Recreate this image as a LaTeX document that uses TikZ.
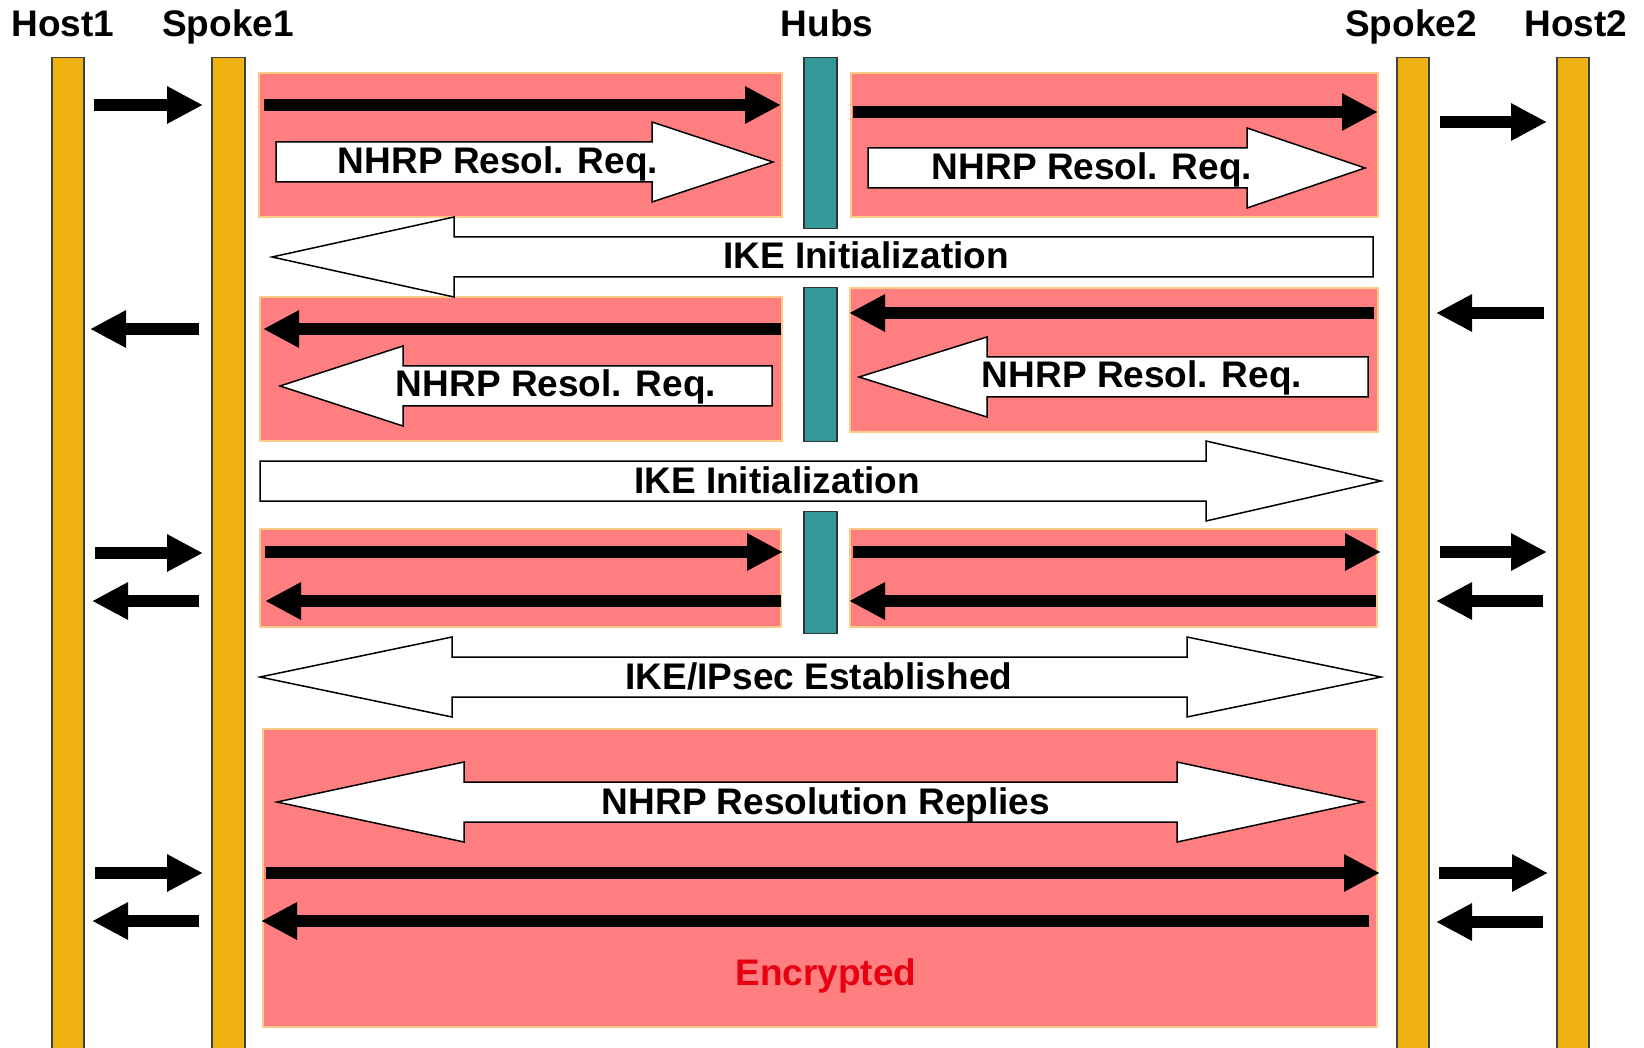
\documentclass[tikz,border=0pt]{standalone}
\usepackage{fontspec}
\setmainfont{Liberation Sans}
\usetikzlibrary{arrows.meta}
\definecolor{gold}{HTML}{EEB111}
\definecolor{pinkf}{HTML}{FF7F80}
\definecolor{pinkb}{HTML}{FFCC88}
\definecolor{hubteal}{HTML}{339999}
\definecolor{encred}{HTML}{E60012}
\newcommand\fa[5]{\coordinate (#1s) at (#2,#3); \coordinate (#1e) at (#4,#5); \draw[fat] (#1s) -- (#1e);}
% right block arrow: x0, headback, tip, centre y
\newcommand\RBA[4]{\draw[blk] (#1,#4-20) -- (#2,#4-20) -- (#2,#4-40) -- (#3,#4) -- (#2,#4+40) -- (#2,#4+20) -- (#1,#4+20) -- cycle;}
% left block arrow: tip, headback, x1, centre y
\newcommand\LBA[4]{\draw[blk] (#3,#4-20) -- (#2,#4-20) -- (#2,#4-40) -- (#1,#4) -- (#2,#4+40) -- (#2,#4+20) -- (#3,#4+20) -- cycle;}
% double block arrow: left tip, left headback, right headback, right tip, centre y
\newcommand\DBA[5]{\draw[blk] (#1,#5) -- (#2,#5-40) -- (#2,#5-20) -- (#3,#5-20) -- (#3,#5-40) -- (#4,#5) -- (#3,#5+40) -- (#3,#5+20) -- (#2,#5+20) -- (#2,#5+40) -- cycle;}
\begin{document}
\begin{tikzpicture}[x=1pt,y=-1pt,
  bar/.style={draw=black!75, line width=1.2pt, fill=gold, inner sep=0pt, minimum width=32pt, anchor=north},
  hub/.style={draw=black!80, line width=1.2pt, fill=hubteal, inner sep=0pt, minimum width=33pt, anchor=north},
  pbox/.style={draw=pinkb, line width=1.2pt, fill=pinkf},
  fat/.style={line width=11.5pt, -{Triangle[length=36pt,width=35pt]}},
  blk/.style={draw=black, line width=1.5pt, fill=white, line join=miter},
  lbl/.style={font=\bfseries\fontsize{37}{40}\selectfont, anchor=base, inner sep=0pt}]
\useasboundingbox (0,0) rectangle (1644,1048);
\fill[white] (0,0) rectangle (1644,1048);

% pink boxes
\draw[pbox] (259,73) rectangle (782,217);
\draw[pbox] (851,73) rectangle (1378,217);
\draw[pbox] (260,297) rectangle (782,441);
\draw[pbox] (850,288) rectangle (1378,432);
\draw[pbox] (260,529) rectangle (781,627);
\draw[pbox] (850,529) rectangle (1377,627);
\draw[pbox] (263,729) rectangle (1377,1027);

% lifelines
\node[bar, minimum height=1000pt] (host1) at (68,57) {};
\node[bar, minimum height=1000pt, minimum width=33pt] (spoke1) at (228.5,57) {};
\node[bar, minimum height=1000pt] (spoke2) at (1413,57) {};
\node[bar, minimum height=1000pt] (host2) at (1573,57) {};
\node[hub, minimum height=171pt] (hubA) at (820.5,57) {};
\node[hub, minimum height=154pt] (hubB) at (820.5,287) {};
\node[hub, minimum height=122pt] (hubC) at (820.5,511) {};

% headers
\node[lbl] (lhost1) at (63,37) {Host1};
\node[lbl] (lspoke1) at (228,37) {Spoke1};
\node[lbl] (lhubs) at (827,37) {Hubs};
\node[lbl] (lspoke2) at (1411,37) {Spoke2};
\node[lbl] (lhost2) at (1576,37) {Host2};

% black arrows, row 1
\fa{a1}{94}{105}{203}{105}
\fa{a2}{264}{105}{781}{105}
\fa{a3}{853}{112}{1378}{112}
\fa{a4}{1440}{122}{1547}{122}
% row 2
\fa{b1}{199}{329}{90}{329}
\fa{b2}{781}{329}{263}{329}
\fa{b3}{1374}{313}{849}{313}
\fa{b4}{1544}{313}{1436}{313}
% row 4
\fa{c1}{95}{553}{203}{553}
\fa{c2}{199}{601}{92}{601}
\fa{c3}{265}{552}{783}{552}
\fa{c4}{781}{601}{265}{601}
\fa{c5}{853}{552}{1381}{552}
\fa{c6}{1376}{601}{849}{601}
\fa{c7}{1440}{552}{1547}{552}
\fa{c8}{1543}{601}{1436}{601}
% row 5
\fa{d1}{95}{873}{203}{873}
\fa{d2}{199}{921}{92}{921}
\fa{d3}{266}{873}{1380}{873}
\fa{d4}{1369}{921}{261}{921}
\fa{d5}{1439}{873}{1548}{873}
\fa{d6}{1543}{922}{1436}{922}

% block arrows
\RBA{276}{652}{773}{162}
\RBA{868}{1247}{1365}{168}
\LBA{272}{454}{1373}{257}
\LBA{280}{403}{772}{386}
\LBA{859}{987}{1368}{377}
\RBA{260}{1206}{1381}{481}
\DBA{260}{452}{1187}{1381}{677}
\DBA{277}{464}{1177}{1363}{802}

% labels
\node[lbl] (t1) at (498,174) {NHRP Resol. Req.};
\node[lbl] (t2) at (1092,180) {NHRP Resol. Req.};
\node[lbl] (t3) at (866,269) {IKE Initialization};
\node[lbl] (t4) at (556,397) {NHRP Resol. Req.};
\node[lbl] (t5) at (1142,388) {NHRP Resol. Req.};
\node[lbl] (t6) at (777,493) {IKE Initialization};
\node[lbl] (t7) at (819,689) {IKE/IPsec Established};
\node[lbl] (t8) at (826,814) {NHRP Resolution Replies};
\node[lbl, text=encred] (t9) at (826,985) {Encrypted};
\end{tikzpicture}
\end{document}
